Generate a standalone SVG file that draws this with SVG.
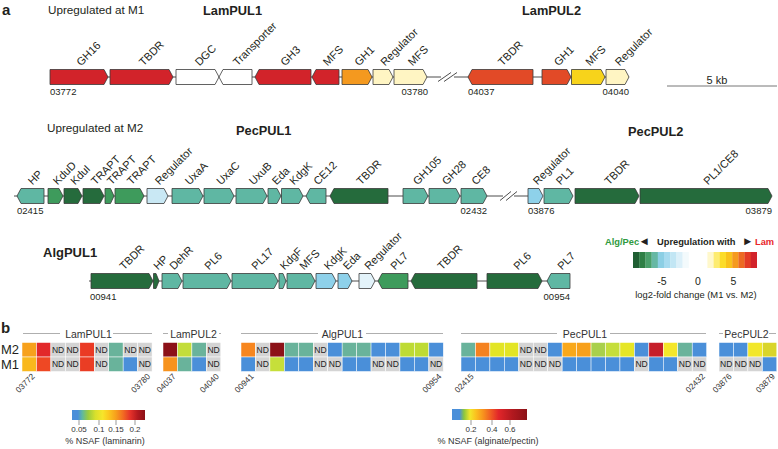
<svg xmlns="http://www.w3.org/2000/svg" width="778" height="449" viewBox="0 0 778 449">
<defs>
<style>
text{font-family:"Liberation Sans",Arial,"DejaVu Sans",sans-serif;fill:#231f20}
.ge{stroke:#3a3a3a;stroke-width:0.8}
.red{fill:#d2232a}.ro{fill:#e24a27}.or{fill:#f4991f}.ly{fill:#fff5c3}.gd{fill:#f7d31b}.wh{fill:#ffffff}
.dg{fill:#256b3c}.mg{fill:#3e9b5c}.tl{fill:#5fb7a3}.lb{fill:#8ed1ea}.pb{fill:#c9e8f4}.vb{fill:#e3f3fa}
.gl{font-size:11px}
.num{font-size:9.5px}
.end{text-anchor:end}
.ttl{font-size:12.8px;font-weight:bold}
.sub{font-size:11.7px}
.bb{stroke:#4d4d4d;stroke-width:1;fill:none}
.c{stroke:#ffffff;stroke-width:0.5}
.nd{fill:#d4d4d4}
.B{fill:#4a8fd9}.T{fill:#69b39b}
.ndt{font-size:8.5px;text-anchor:middle;fill:#222}
.hl{font-size:8.3px;text-anchor:end;fill:#333}
.ht{font-size:10.5px;text-anchor:middle;fill:#333}
.hline{stroke:#9a9a9a;stroke-width:0.8}
.tk{stroke:#555;stroke-width:0.6}
.sm{font-size:9px;text-anchor:middle;fill:#333}
.tkl{font-size:8px;text-anchor:middle;fill:#333}
</style>
<linearGradient id="gLam" x1="0" y1="0" x2="1" y2="0">
<stop offset="0" stop-color="#4a8fd9"/><stop offset="0.08" stop-color="#4a8fd9"/><stop offset="0.14" stop-color="#5fb8a0"/><stop offset="0.22" stop-color="#9acb3f"/><stop offset="0.32" stop-color="#d8e02c"/><stop offset="0.42" stop-color="#f7e52a"/><stop offset="0.5" stop-color="#fbc81f"/><stop offset="0.6" stop-color="#f7a01c"/><stop offset="0.7" stop-color="#f26b22"/><stop offset="0.8" stop-color="#e4312a"/><stop offset="0.9" stop-color="#b3191f"/><stop offset="1" stop-color="#8b1117"/>
</linearGradient>
<linearGradient id="gAlg" x1="0" y1="0" x2="1" y2="0">
<stop offset="0" stop-color="#4a8fd9"/><stop offset="0.1" stop-color="#4a8fd9"/><stop offset="0.16" stop-color="#8cc63f"/><stop offset="0.24" stop-color="#f2e62a"/><stop offset="0.32" stop-color="#fbc01f"/><stop offset="0.42" stop-color="#f7901e"/><stop offset="0.52" stop-color="#ef5a24"/><stop offset="0.62" stop-color="#e2262a"/><stop offset="0.8" stop-color="#b3191f"/><stop offset="1" stop-color="#8b1117"/>
</linearGradient>
</defs>
<rect width="778" height="449" fill="#ffffff"/>

<!-- panel labels and titles -->
<text x="2" y="15" style="font-size:15px;font-weight:bold">a</text>
<text x="1" y="333" style="font-size:15px;font-weight:bold">b</text>
<text class="sub" x="48" y="13.5">Upregulated at M1</text>
<text class="ttl" x="203" y="15">LamPUL1</text>
<text class="ttl" x="522" y="15">LamPUL2</text>
<text class="sub" x="47" y="132">Upregulated at M2</text>
<text class="ttl" x="236" y="134.5">PecPUL1</text>
<text class="ttl" x="628" y="136">PecPUL2</text>
<text class="ttl" x="43" y="257" style="font-size:13px">AlgPUL1</text>

<!-- connectors -->
<g id="connectors">
<line class="bb" x1="50" y1="77" x2="629" y2="77"/>
<line class="bb" x1="14" y1="196" x2="528" y2="196"/>
<line class="bb" x1="89" y1="281" x2="570" y2="281"/>
<g id="breaks">
<rect x="441" y="75" width="13" height="4" fill="#fff"/>
<line class="bb" x1="438" y1="81.5" x2="451" y2="72.5"/>
<line class="bb" x1="444" y1="81.5" x2="457" y2="72.5"/>
<rect x="503" y="194" width="11" height="4" fill="#fff"/>
<line class="bb" x1="500" y1="200.5" x2="511" y2="191.5"/>
<line class="bb" x1="506" y1="200.5" x2="517" y2="191.5"/>
</g>
</g>

<!-- top row LamPUL1 / LamPUL2 -->
<g id="lam-gh16"><polygon class="ge red" points="50,69.5 104,69.5 108,77 104,84.5 50,84.5"/><text class="gl" transform="translate(81,66.5) rotate(-45)">GH16</text><text class="num" x="50" y="95">03772</text></g>
<g id="lam-tbdr1"><polygon class="ge red" points="110,69.5 169,69.5 173,77 169,84.5 110,84.5"/><text class="gl" transform="translate(143.5,66.5) rotate(-45)">TBDR</text></g>
<g id="lam-dgc"><polygon class="ge wh" points="176,69.5 215,69.5 219,77 215,84.5 176,84.5"/><text class="gl" transform="translate(199.5,66.5) rotate(-45)">DGC</text></g>
<g id="lam-transporter"><polygon class="ge wh" points="219,77 223,69.5 252,69.5 252,84.5 223,84.5"/><text class="gl" transform="translate(237.5,66.5) rotate(-45)">Transporter</text></g>
<g id="lam-gh3"><polygon class="ge red" points="255,77 259,69.5 311,69.5 311,84.5 259,84.5"/><text class="gl" transform="translate(285,66.5) rotate(-45)">GH3</text></g>
<g id="lam-mfs1"><polygon class="ge red" points="312,77 316,69.5 339,69.5 339,84.5 316,84.5"/><text class="gl" transform="translate(327.5,66.5) rotate(-45)">MFS</text></g>
<g id="lam-gh1a"><polygon class="ge or" points="342,69.5 368,69.5 372,77 368,84.5 342,84.5"/><text class="gl" transform="translate(359,66.5) rotate(-45)">GH1</text></g>
<g id="lam-reg1"><polygon class="ge ly" points="373,69.5 389,69.5 393,77 389,84.5 373,84.5"/><text class="gl" transform="translate(385,66.5) rotate(-45)">Regulator</text></g>
<g id="lam-mfs2"><polygon class="ge ly" points="394,69.5 423,69.5 427,77 423,84.5 394,84.5"/><text class="gl" transform="translate(412.5,66.5) rotate(-45)">MFS</text><text class="num end" x="428" y="95">03780</text></g>
<g id="lam2-tbdr"><polygon class="ge ro" points="468,77 472,69.5 533,69.5 533,84.5 472,84.5"/><text class="gl" transform="translate(502.5,66.5) rotate(-45)">TBDR</text><text class="num" x="468" y="95">04037</text></g>
<g id="lam2-gh1"><polygon class="ge ro" points="542,69.5 567,69.5 571,77 567,84.5 542,84.5"/><text class="gl" transform="translate(558.5,66.5) rotate(-45)">GH1</text></g>
<g id="lam2-mfs"><polygon class="ge gd" points="571.5,69.5 601,69.5 605,77 601,84.5 571.5,84.5"/><text class="gl" transform="translate(590,66.5) rotate(-45)">MFS</text></g>
<g id="lam2-reg"><polygon class="ge ly" points="606,69.5 625,69.5 629,77 625,84.5 606,84.5"/><text class="gl" transform="translate(619.5,66.5) rotate(-45)">Regulator</text><text class="num end" x="629" y="95">04040</text></g>

<g id="scalebar"><line x1="667" y1="86" x2="777" y2="86" stroke="#777" stroke-width="1"/><text x="717" y="83.5" style="font-size:11px;text-anchor:middle">5 kb</text></g>

<!-- middle row PecPUL1 / PecPUL2 -->
<g id="pec-hp"><polygon class="ge tl" points="17,196 21,188.5 44,188.5 44,203.5 21,203.5"/><text class="gl" transform="translate(32.5,185.5) rotate(-45)">HP</text><text class="num" x="17" y="214">02415</text></g>
<g id="pec-kdud"><polygon class="ge mg" points="48,188.5 59,188.5 63,196 59,203.5 48,203.5"/><text class="gl" transform="translate(57.5,185.5) rotate(-45)">KduD</text></g>
<g id="pec-kdui"><polygon class="ge dg" points="64,188.5 78,188.5 82,196 78,203.5 64,203.5"/><text class="gl" transform="translate(75,185.5) rotate(-45)">KduI</text></g>
<g id="pec-trapt1"><polygon class="ge dg" points="83,188.5 100,188.5 104,196 100,203.5 83,203.5"/><text class="gl" transform="translate(95.5,185.5) rotate(-45)">TRAPT</text></g>
<g id="pec-trapt2"><polygon class="ge mg" points="105,188.5 110.5,188.5 114,196 110.5,203.5 105,203.5"/><text class="gl" transform="translate(111.5,185.5) rotate(-45)">TRAPT</text></g>
<g id="pec-trapt3"><polygon class="ge mg" points="115,188.5 140,188.5 144,196 140,203.5 115,203.5"/><text class="gl" transform="translate(131.5,185.5) rotate(-45)">TRAPT</text></g>
<g id="pec-reg"><polygon class="ge pb" points="147,188.5 164,188.5 168,196 164,203.5 147,203.5"/><text class="gl" transform="translate(159.5,185.5) rotate(-45)">Regulator</text></g>
<g id="pec-uxaa"><polygon class="ge tl" points="172,188.5 199,188.5 203,196 199,203.5 172,203.5"/><text class="gl" transform="translate(189.5,185.5) rotate(-45)">UxaA</text></g>
<g id="pec-uxac"><polygon class="ge tl" points="204,188.5 230,188.5 234,196 230,203.5 204,203.5"/><text class="gl" transform="translate(221,185.5) rotate(-45)">UxaC</text></g>
<g id="pec-uxub"><polygon class="ge tl" points="236,188.5 263,188.5 267,196 263,203.5 236,203.5"/><text class="gl" transform="translate(253.5,185.5) rotate(-45)">UxuB</text></g>
<g id="pec-eda"><polygon class="ge tl" points="268,188.5 277,188.5 281,196 277,203.5 268,203.5"/><text class="gl" transform="translate(276.5,185.5) rotate(-45)">Eda</text></g>
<g id="pec-kdgk"><polygon class="ge tl" points="281.5,188.5 299,188.5 303,196 299,203.5 281.5,203.5"/><text class="gl" transform="translate(294,185.5) rotate(-45)">KdgK</text></g>
<g id="pec-ce12"><polygon class="ge tl" points="306,196 310,188.5 326,188.5 326,203.5 310,203.5"/><text class="gl" transform="translate(318,185.5) rotate(-45)">CE12</text></g>
<g id="pec-tbdr"><polygon class="ge dg" points="330,196 334,188.5 388,188.5 388,203.5 334,203.5"/><text class="gl" transform="translate(361,185.5) rotate(-45)">TBDR</text></g>
<g id="pec-gh105"><polygon class="ge tl" points="403,188.5 424,188.5 428,196 424,203.5 403,203.5"/><text class="gl" transform="translate(417.5,185.5) rotate(-45)">GH105</text></g>
<g id="pec-gh28"><polygon class="ge tl" points="429,188.5 456,188.5 460,196 456,203.5 429,203.5"/><text class="gl" transform="translate(446.5,185.5) rotate(-45)">GH28</text></g>
<g id="pec-ce8"><polygon class="ge tl" points="461,188.5 483,188.5 487,196 483,203.5 461,203.5"/><text class="gl" transform="translate(476,185.5) rotate(-45)">CE8</text><text class="num end" x="487" y="214">02432</text></g>
<g id="pec2-reg"><polygon class="ge lb" points="528,188.5 539,188.5 543,196 539,203.5 528,203.5"/><text class="gl" transform="translate(537.5,185.5) rotate(-45)">Regulator</text><text class="num" x="528" y="214">03876</text></g>
<g id="pec2-pl1"><polygon class="ge tl" points="544,188.5 569,188.5 573,196 569,203.5 544,203.5"/><text class="gl" transform="translate(560.5,185.5) rotate(-45)">PL1</text></g>
<g id="pec2-tbdr"><polygon class="ge dg" points="575,188.5 635,188.5 639,196 635,203.5 575,203.5"/><text class="gl" transform="translate(609,185.5) rotate(-45)">TBDR</text></g>
<g id="pec2-pl1ce8"><polygon class="ge dg" points="640,188.5 768,188.5 772,196 768,203.5 640,203.5"/><text class="gl" transform="translate(708,185.5) rotate(-45)">PL1/CE8</text><text class="num end" x="772" y="214">03879</text></g>

<!-- AlgPUL1 row -->
<g id="alg-tbdr1"><polygon class="ge dg" points="91,273.5 149,273.5 153,281 149,288.5 91,288.5"/><text class="gl" transform="translate(124,270.5) rotate(-45)">TBDR</text><text class="num" x="90" y="300">00941</text></g>
<g id="alg-hp"><polygon class="ge dg" points="153.5,273.5 156,273.5 159,281 156,288.5 153.5,288.5"/><text class="gl" transform="translate(158,270.5) rotate(-45)">HP</text></g>
<g id="alg-dehr"><polygon class="ge tl" points="162,273.5 178,273.5 182,281 178,288.5 162,288.5"/><text class="gl" transform="translate(174,270.5) rotate(-45)">DehR</text></g>
<g id="alg-pl6a"><polygon class="ge tl" points="183,273.5 227,273.5 231,281 227,288.5 183,288.5"/><text class="gl" transform="translate(209,270.5) rotate(-45)">PL6</text></g>
<g id="alg-pl17"><polygon class="ge tl" points="232,273.5 274,273.5 278,281 274,288.5 232,288.5"/><text class="gl" transform="translate(256,270.5) rotate(-45)">PL17</text></g>
<g id="alg-kdgf"><polygon class="ge tl" points="279,273.5 283,273.5 286,281 283,288.5 279,288.5"/><text class="gl" transform="translate(284.5,270.5) rotate(-45)">KdgF</text></g>
<g id="alg-mfs"><polygon class="ge tl" points="287,273.5 311,273.5 315,281 311,288.5 287,288.5"/><text class="gl" transform="translate(304,270.5) rotate(-45)">MFS</text></g>
<g id="alg-kdgk"><polygon class="ge lb" points="316,273.5 332,273.5 336,281 332,288.5 316,288.5"/><text class="gl" transform="translate(328.5,270.5) rotate(-45)">KdgK</text></g>
<g id="alg-eda"><polygon class="ge lb" points="338,273.5 348,273.5 352,281 348,288.5 338,288.5"/><text class="gl" transform="translate(347.5,270.5) rotate(-45)">Eda</text></g>
<g id="alg-reg"><polygon class="ge vb" points="359,273.5 371,273.5 375,281 371,288.5 359,288.5"/><text class="gl" transform="translate(369,270.5) rotate(-45)">Regulator</text></g>
<g id="alg-pl7a"><polygon class="ge mg" points="378,281 382,273.5 408,273.5 408,288.5 382,288.5"/><text class="gl" transform="translate(395,270.5) rotate(-45)">PL7</text></g>
<g id="alg-tbdr2"><polygon class="ge dg" points="411,281 415,273.5 477,273.5 477,288.5 415,288.5"/><text class="gl" transform="translate(442,270.5) rotate(-45)">TBDR</text></g>
<g id="alg-pl6b"><polygon class="ge dg" points="487,273.5 538,273.5 542,281 538,288.5 487,288.5"/><text class="gl" transform="translate(518,270.5) rotate(-45)">PL6</text></g>
<g id="alg-pl7b"><polygon class="ge tl" points="547,281 551,273.5 570,273.5 570,288.5 551,288.5"/><text class="gl" transform="translate(562,270.5) rotate(-45)">PL7</text><text class="num end" x="570" y="300">00954</text></g>

<!-- fold-change legend -->
<g id="legend-fold">
<text y="245" style="font-size:9.3px;font-weight:bold"><tspan x="605" style="fill:#2f9a40">Alg/Pec</tspan><tspan x="638.5" style="font-size:11.5px">◄</tspan><tspan x="657">Upregulation with</tspan><tspan x="742" style="font-size:11.5px">►</tspan><tspan x="755" style="fill:#e8262b">Lam</tspan></text>
<g id="fold-bar">
<rect x="633" y="252" width="6.4" height="16" fill="#1f5f33"/>
<rect x="639.2" y="252" width="6.4" height="16" fill="#2e7f45"/>
<rect x="645.4" y="252" width="6.4" height="16" fill="#4aa06b"/>
<rect x="651.6" y="252" width="6.4" height="16" fill="#66b8a4"/>
<rect x="657.8" y="252" width="6.4" height="16" fill="#8ccfe4"/>
<rect x="664" y="252" width="6.4" height="16" fill="#a7dbef"/>
<rect x="670.2" y="252" width="6.4" height="16" fill="#c2e6f4"/>
<rect x="676.4" y="252" width="6.4" height="16" fill="#dcf0f9"/>
<rect x="682.6" y="252" width="6.4" height="16" fill="#f3fafc"/>
<rect x="688.8" y="252" width="6.4" height="16" fill="#ffffff"/>
<rect x="695" y="252" width="6.4" height="16" fill="#ffffff"/>
<rect x="701.2" y="252" width="6.4" height="16" fill="#ffffff"/>
<rect x="707.4" y="252" width="6.4" height="16" fill="#fff8cc"/>
<rect x="713.6" y="252" width="6.4" height="16" fill="#fdec70"/>
<rect x="719.8" y="252" width="6.4" height="16" fill="#fcdc2a"/>
<rect x="726" y="252" width="6.4" height="16" fill="#f9c21c"/>
<rect x="732.2" y="252" width="6.4" height="16" fill="#f59a1f"/>
<rect x="738.4" y="252" width="6.4" height="16" fill="#ec6a23"/>
<rect x="744.6" y="252" width="6.4" height="16" fill="#e33b26"/>
<rect x="750.8" y="252" width="6.2" height="16" fill="#d2232a"/>
</g>
<text x="662" y="285" style="font-size:10.5px;text-anchor:middle">-5</text>
<text x="698" y="285" style="font-size:10.5px;text-anchor:middle">0</text>
<text x="733.5" y="285" style="font-size:10.5px;text-anchor:middle">5</text>
<text x="696" y="298" style="font-size:9.4px;text-anchor:middle">log2-fold change (M1 vs. M2)</text>
</g>

<!-- heatmap -->
<text x="1" y="353.5" style="font-size:13px">M2</text>
<text x="1" y="368.5" style="font-size:13px">M1</text>

<g id="hm-lampul1">
<line class="hline" x1="23" y1="333.5" x2="60" y2="333.5"/><line class="hline" x1="113" y1="333.5" x2="152" y2="333.5"/>
<text class="ht" x="88.5" y="337.5">LamPUL1</text>
<rect class="c" x="22" y="342.5" width="14.45" height="14.5" fill="#f7a11c"/>
<rect class="c" x="36.45" y="342.5" width="14.45" height="14.5" fill="#e2282a"/>
<rect class="c nd" x="50.9" y="342.5" width="14.45" height="14.5"/>
<rect class="c nd" x="65.35" y="342.5" width="14.45" height="14.5"/>
<rect class="c" x="79.8" y="342.5" width="14.45" height="14.5" fill="#ea3a24"/>
<rect class="c nd" x="94.25" y="342.5" width="14.45" height="14.5"/>
<rect class="c T" x="108.7" y="342.5" width="14.45" height="14.5"/>
<rect class="c nd" x="123.15" y="342.5" width="14.45" height="14.5"/>
<rect class="c nd" x="137.6" y="342.5" width="14.45" height="14.5"/>
<rect class="c" x="22" y="357" width="14.45" height="14.5" fill="#f9b81d"/>
<rect class="c" x="36.45" y="357" width="14.45" height="14.5" fill="#ee4824"/>
<rect class="c nd" x="50.9" y="357" width="14.45" height="14.5"/>
<rect class="c nd" x="65.35" y="357" width="14.45" height="14.5"/>
<rect class="c" x="79.8" y="357" width="14.45" height="14.5" fill="#ea3d24"/>
<rect class="c nd" x="94.25" y="357" width="14.45" height="14.5"/>
<rect class="c T" x="108.7" y="357" width="14.45" height="14.5"/>
<rect class="c B" x="123.15" y="357" width="14.45" height="14.5"/>
<rect class="c nd" x="137.6" y="357" width="14.45" height="14.5"/>
<text class="ndt" x="58.1" y="352.8">ND</text><text class="ndt" x="72.6" y="352.8">ND</text><text class="ndt" x="101.5" y="352.8">ND</text><text class="ndt" x="130.4" y="352.8">ND</text><text class="ndt" x="144.8" y="352.8">ND</text>
<text class="ndt" x="58.1" y="367.3">ND</text><text class="ndt" x="72.6" y="367.3">ND</text><text class="ndt" x="101.5" y="367.3">ND</text><text class="ndt" x="144.8" y="367.3">ND</text>
<text class="hl" transform="translate(35.2,377) rotate(-45)">03772</text>
<text class="hl" transform="translate(150.8,377) rotate(-45)">03780</text>
</g>

<g id="hm-lampul2">
<line class="hline" x1="163" y1="333.5" x2="168" y2="333.5"/><line class="hline" x1="219" y1="333.5" x2="221" y2="333.5"/>
<text class="ht" x="193.5" y="337.5">LamPUL2</text>
<rect class="c" x="163" y="342.5" width="14.45" height="14.5" fill="#8c1118"/>
<rect class="c" x="177.45" y="342.5" width="14.45" height="14.5" fill="#c3dd3b"/>
<rect class="c T" x="191.9" y="342.5" width="14.45" height="14.5"/>
<rect class="c nd" x="206.35" y="342.5" width="14.45" height="14.5"/>
<rect class="c" x="163" y="357" width="14.45" height="14.5" fill="#f7931e"/>
<rect class="c T" x="177.45" y="357" width="14.45" height="14.5"/>
<rect class="c B" x="191.9" y="357" width="14.45" height="14.5"/>
<rect class="c nd" x="206.35" y="357" width="14.45" height="14.5"/>
<text class="ndt" x="213.6" y="352.8">ND</text><text class="ndt" x="213.6" y="367.3">ND</text>
<text class="hl" transform="translate(176.2,377) rotate(-45)">04037</text>
<text class="hl" transform="translate(219.6,377) rotate(-45)">04040</text>
</g>

<g id="hm-algpul1">
<line class="hline" x1="241" y1="333.5" x2="318" y2="333.5"/><line class="hline" x1="366" y1="333.5" x2="443" y2="333.5"/>
<text class="ht" x="342.5" y="337.5">AlgPUL1</text>
<rect class="c" x="241" y="342.5" width="14.45" height="14.5" fill="#f7861f"/>
<rect class="c nd" x="255.45" y="342.5" width="14.45" height="14.5"/>
<rect class="c" x="269.9" y="342.5" width="14.45" height="14.5" fill="#8c1218"/>
<rect class="c T" x="284.35" y="342.5" width="14.45" height="14.5"/>
<rect class="c T" x="298.8" y="342.5" width="14.45" height="14.5"/>
<rect class="c nd" x="313.25" y="342.5" width="14.45" height="14.5"/>
<rect class="c B" x="327.7" y="342.5" width="14.45" height="14.5"/>
<rect class="c T" x="342.15" y="342.5" width="14.45" height="14.5"/>
<rect class="c T" x="356.6" y="342.5" width="14.45" height="14.5"/>
<rect class="c B" x="371.05" y="342.5" width="14.45" height="14.5"/>
<rect class="c B" x="385.5" y="342.5" width="14.45" height="14.5"/>
<rect class="c" x="399.95" y="342.5" width="14.45" height="14.5" fill="#bedb34"/>
<rect class="c" x="414.4" y="342.5" width="14.45" height="14.5" fill="#bedb34"/>
<rect class="c B" x="428.85" y="342.5" width="14.45" height="14.5"/>
<rect class="c B" x="241" y="357" width="14.45" height="14.5"/>
<rect class="c nd" x="255.45" y="357" width="14.45" height="14.5"/>
<rect class="c" x="269.9" y="357" width="14.45" height="14.5" fill="#c6df3a"/>
<rect class="c B" x="284.35" y="357" width="14.45" height="14.5"/>
<rect class="c B" x="298.8" y="357" width="14.45" height="14.5"/>
<rect class="c nd" x="313.25" y="357" width="14.45" height="14.5"/>
<rect class="c nd" x="327.7" y="357" width="14.45" height="14.5"/>
<rect class="c B" x="342.15" y="357" width="14.45" height="14.5"/>
<rect class="c B" x="356.6" y="357" width="14.45" height="14.5"/>
<rect class="c nd" x="371.05" y="357" width="14.45" height="14.5"/>
<rect class="c nd" x="385.5" y="357" width="14.45" height="14.5"/>
<rect class="c B" x="399.95" y="357" width="14.45" height="14.5"/>
<rect class="c B" x="414.4" y="357" width="14.45" height="14.5"/>
<rect class="c nd" x="428.85" y="357" width="14.45" height="14.5"/>
<text class="ndt" x="262.7" y="352.8">ND</text><text class="ndt" x="320.5" y="352.8">ND</text>
<text class="ndt" x="262.7" y="367.3">ND</text><text class="ndt" x="320.5" y="367.3">ND</text><text class="ndt" x="334.9" y="367.3">ND</text><text class="ndt" x="378.3" y="367.3">ND</text><text class="ndt" x="392.7" y="367.3">ND</text><text class="ndt" x="436.1" y="367.3">ND</text>
<text class="hl" transform="translate(254.2,377) rotate(-45)">00941</text>
<text class="hl" transform="translate(442.1,377) rotate(-45)">00954</text>
</g>

<g id="hm-pecpul1">
<line class="hline" x1="461" y1="333.5" x2="557" y2="333.5"/><line class="hline" x1="610" y1="333.5" x2="706" y2="333.5"/>
<text class="ht" x="585" y="337.5">PecPUL1</text>
<rect class="c T" x="461" y="342.5" width="14.45" height="14.5"/>
<rect class="c" x="475.45" y="342.5" width="14.45" height="14.5" fill="#f58220"/>
<rect class="c" x="489.9" y="342.5" width="14.45" height="14.5" fill="#e3e525"/>
<rect class="c" x="504.35" y="342.5" width="14.45" height="14.5" fill="#e3e525"/>
<rect class="c nd" x="518.8" y="342.5" width="14.45" height="14.5"/>
<rect class="c nd" x="533.25" y="342.5" width="14.45" height="14.5"/>
<rect class="c B" x="547.7" y="342.5" width="14.45" height="14.5"/>
<rect class="c" x="562.15" y="342.5" width="14.45" height="14.5" fill="#f9a81b"/>
<rect class="c" x="576.6" y="342.5" width="14.45" height="14.5" fill="#f7a01c"/>
<rect class="c" x="591.05" y="342.5" width="14.45" height="14.5" fill="#a9d04b"/>
<rect class="c" x="605.5" y="342.5" width="14.45" height="14.5" fill="#c5de3b"/>
<rect class="c" x="619.95" y="342.5" width="14.45" height="14.5" fill="#e6e626"/>
<rect class="c B" x="634.4" y="342.5" width="14.45" height="14.5"/>
<rect class="c" x="648.85" y="342.5" width="14.45" height="14.5" fill="#c61f2a"/>
<rect class="c" x="663.3" y="342.5" width="14.45" height="14.5" fill="#f4e72a"/>
<rect class="c T" x="677.75" y="342.5" width="14.45" height="14.5"/>
<rect class="c B" x="692.2" y="342.5" width="14.45" height="14.5"/>
<rect class="c B" x="461" y="357" width="14.45" height="14.5"/>
<rect class="c B" x="475.45" y="357" width="14.45" height="14.5"/>
<rect class="c B" x="489.9" y="357" width="14.45" height="14.5"/>
<rect class="c B" x="504.35" y="357" width="14.45" height="14.5"/>
<rect class="c nd" x="518.8" y="357" width="14.45" height="14.5"/>
<rect class="c nd" x="533.25" y="357" width="14.45" height="14.5"/>
<rect class="c nd" x="547.7" y="357" width="14.45" height="14.5"/>
<rect class="c B" x="562.15" y="357" width="14.45" height="14.5"/>
<rect class="c B" x="576.6" y="357" width="14.45" height="14.5"/>
<rect class="c B" x="591.05" y="357" width="14.45" height="14.5"/>
<rect class="c B" x="605.5" y="357" width="14.45" height="14.5"/>
<rect class="c B" x="619.95" y="357" width="14.45" height="14.5"/>
<rect class="c nd" x="634.4" y="357" width="14.45" height="14.5"/>
<rect class="c B" x="648.85" y="357" width="14.45" height="14.5"/>
<rect class="c B" x="663.3" y="357" width="14.45" height="14.5"/>
<rect class="c nd" x="677.75" y="357" width="14.45" height="14.5"/>
<rect class="c nd" x="692.2" y="357" width="14.45" height="14.5"/>
<text class="ndt" x="526" y="352.8">ND</text><text class="ndt" x="540.5" y="352.8">ND</text>
<text class="ndt" x="526" y="367.3">ND</text><text class="ndt" x="540.5" y="367.3">ND</text><text class="ndt" x="554.9" y="367.3">ND</text><text class="ndt" x="641.6" y="367.3">ND</text><text class="ndt" x="685" y="367.3">ND</text><text class="ndt" x="699.4" y="367.3">ND</text>
<text class="hl" transform="translate(474.2,377) rotate(-45)">02415</text>
<text class="hl" transform="translate(705.4,377) rotate(-45)">02432</text>
</g>

<g id="hm-pecpul2">
<line class="hline" x1="719" y1="333.5" x2="723" y2="333.5"/><line class="hline" x1="769" y1="333.5" x2="776" y2="333.5"/>
<text class="ht" x="746.5" y="337.5">PecPUL2</text>
<rect class="c B" x="719" y="342.5" width="14.45" height="14.5"/>
<rect class="c B" x="733.45" y="342.5" width="14.45" height="14.5"/>
<rect class="c" x="747.9" y="342.5" width="14.45" height="14.5" fill="#f2e72b"/>
<rect class="c" x="762.35" y="342.5" width="14.45" height="14.5" fill="#d9d52a"/>
<rect class="c nd" x="719" y="357" width="14.45" height="14.5"/>
<rect class="c nd" x="733.45" y="357" width="14.45" height="14.5"/>
<rect class="c nd" x="747.9" y="357" width="14.45" height="14.5"/>
<rect class="c B" x="762.35" y="357" width="14.45" height="14.5"/>
<text class="ndt" x="726.2" y="367.3">ND</text><text class="ndt" x="740.7" y="367.3">ND</text><text class="ndt" x="755.1" y="367.3">ND</text>
<text class="hl" transform="translate(732.2,377) rotate(-45)">03876</text>
<text class="hl" transform="translate(775.6,377) rotate(-45)">03879</text>
</g>

<!-- NSAF colour bars -->
<g id="legend-lam">
<rect x="72" y="410" width="73" height="10" fill="url(#gLam)"/>
<line class="tk" x1="79" y1="420" x2="79" y2="425"/><line class="tk" x1="99" y1="420" x2="99" y2="425"/><line class="tk" x1="116" y1="420" x2="116" y2="425"/><line class="tk" x1="135" y1="420" x2="135" y2="425"/>
<text class="tkl" x="79" y="432">0.05</text><text class="tkl" x="99" y="432">0.1</text><text class="tkl" x="116" y="432">0.15</text><text class="tkl" x="135" y="432">0.2</text>
<text class="sm" x="105" y="444">% NSAF (laminarin)</text>
</g>
<g id="legend-alg">
<rect x="452" y="409" width="75" height="11" fill="url(#gAlg)"/>
<line class="tk" x1="471" y1="420" x2="471" y2="425"/><line class="tk" x1="492" y1="420" x2="492" y2="425"/><line class="tk" x1="510" y1="420" x2="510" y2="425"/>
<text class="tkl" x="471" y="432">0.2</text><text class="tkl" x="492" y="432">0.4</text><text class="tkl" x="510" y="432">0.6</text>
<text class="sm" x="488" y="444">% NSAF (alginate/pectin)</text>
</g>
</svg>
